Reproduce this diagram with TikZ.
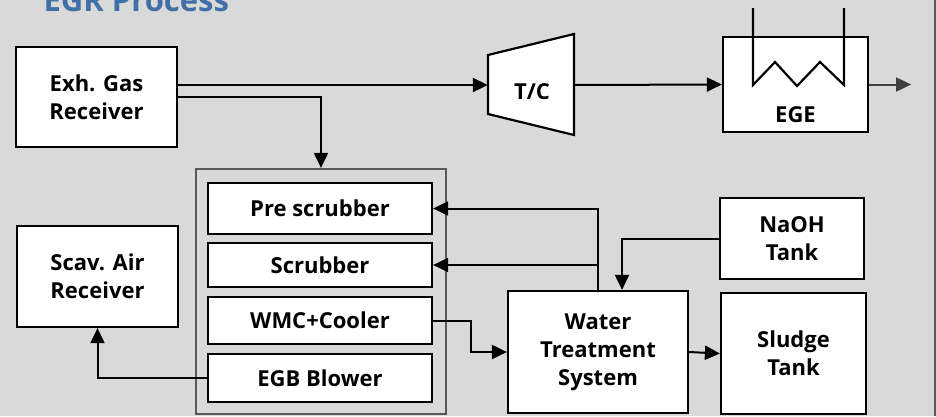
\documentclass[tikz,border=0pt]{standalone}
\usepackage{fontspec}
\setmainfont{Open Sans}
\usetikzlibrary{arrows.meta}
\definecolor{bgray}{HTML}{D9D9D9}
\definecolor{titleblue}{HTML}{416FA7}
\definecolor{framegray}{HTML}{595959}
\begin{document}
\begin{tikzpicture}[x=1pt,y=-1pt,
    box/.style={draw,line width=2.2pt,fill=white,align=center,inner sep=0pt,
        font=\fontsize{22}{28}\selectfont\bfseries},
    flow/.style={line width=2pt,-{Triangle[length=15pt,width=14pt]}}]
    \fill[bgray] (0,0) rectangle (936,416);
    \useasboundingbox (0,0) rectangle (936,416);
    \clip (0,0) rectangle (936,416);
    \draw[framegray,line width=2pt] (935,0) -- (935,416);
    \node[anchor=base west,text=titleblue,font=\fontsize{31}{36}\selectfont\bfseries] (title) at (40,11) {EGR Process};
    % upper line
    \node[box,minimum width=161,minimum height=100] (exh) at (96.5,97) {Exh. Gas\\Receiver};
    \draw[box] (488,55) -- (574,34) -- (574,135) -- (488,114) -- cycle;
    \node[minimum width=86,minimum height=59,inner sep=0pt] (tc) at (531,85) {};
    \node[font=\fontsize{22}{28}\selectfont\bfseries] (tctext) at (532,92) {T/C};
    \node[box,minimum width=145,minimum height=95] (ege) at (795.5,84.5) {};
    \node[font=\fontsize{22}{28}\selectfont\bfseries] (egetext) at (795.5,115) {EGE};
    \draw[line width=2.2pt] (753,8) -- (753,85) -- (775,62) -- (797,86) -- (820,62) -- (844,85) -- (844,8);
    \draw[flow] (exh.east |- tc.west) -- (tc.west);
    \draw[flow] (tc.east) -- (ege.west);
    \draw[flow,draw=black!75,color=black!75] (ege.east) -- ++(42,0) coordinate (egeout);
    % scrubber unit
    \node[draw=framegray,line width=2.2pt,minimum width=250,minimum height=245] (unit) at (321,291.5) {};
    \node[box,minimum width=224,minimum height=51] (pre) at (320,208.5) {Pre scrubber};
    \node[box,minimum width=224,minimum height=44] (scrub) at (320,265) {Scrubber};
    \node[box,minimum width=224,minimum height=47] (wmc) at (320,320.5) {WMC+Cooler};
    \node[box,minimum width=224,minimum height=48] (egb) at (320,378) {EGB Blower};
    \draw[flow] (exh.east) -| (unit.north);
    % lower part
    \node[box,minimum width=161,minimum height=101] (scav) at (97.5,276.5) {Scav. Air\\Receiver};
    \node[box,minimum width=180,minimum height=122] (wts) at (598,352) {Water\\Treatment\\System};
    \node[box,minimum width=144,minimum height=81] (naoh) at (792,238.5) {NaOH\\Tank};
    \node[box,minimum width=145,minimum height=121] (sludge) at (793.5,353.5) {Sludge\\Tank};
    \draw[flow] (wts.north) |- (pre.east);
    \draw[flow] (wts.north) |- (scrub.east);
    \draw[flow] (naoh.west) -| ([xshift=24pt]wts.north);
    \draw[flow] (wmc.east) -- ++(38,0) |- (wts.west);
    \draw[flow] (wts.east) -- (sludge.west);
    \draw[flow] (egb.west) -| (scav.south);
\end{tikzpicture}
\end{document}
